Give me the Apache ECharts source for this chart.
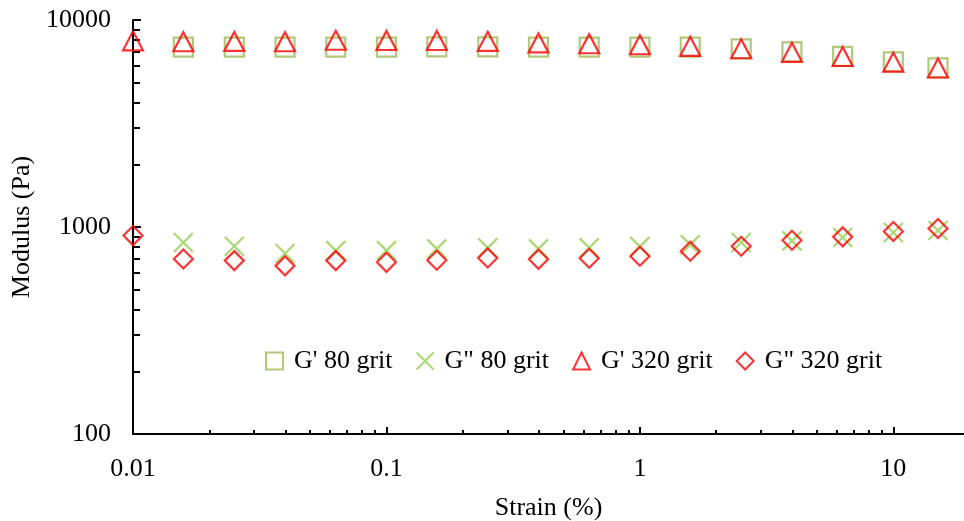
<!DOCTYPE html>
<html>
<head>
<meta charset="utf-8">
<script src="https://cdn.jsdelivr.net/npm/echarts@6/dist/echarts.min.js"></script>
<style>html,body{margin:0;padding:0;background:#fff}#c{width:964px;height:521px}</style>
</head>
<body>
<div id="c"></div>
<script>
// strain (%) values
var strain320 = [0.01, 0.0158, 0.0251, 0.0398, 0.0631, 0.1, 0.158, 0.251, 0.398, 0.631, 1, 1.58, 2.51, 3.98, 6.31, 10, 15];
var strain80  = [0.0158, 0.0251, 0.0398, 0.0631, 0.1, 0.158, 0.251, 0.398, 0.631, 1, 1.58, 2.51, 3.98, 6.31, 10, 15];
// moduli (Pa)
var gp80   = [7390, 7390, 7390, 7400, 7390, 7410, 7420, 7400, 7400, 7400, 7400, 7250, 7020, 6670, 6280, 5870];
var gpp80  = [841, 807, 744, 769, 769, 784, 793, 784, 793, 804, 822, 841, 857, 889, 940, 962];
var gp320  = [7930, 7850, 7880, 7850, 7980, 7960, 7960, 7890, 7750, 7680, 7590, 7460, 7260, 6980, 6660, 6260, 5860];
var gpp320 = [909, 701, 688, 649, 688, 675, 691, 709, 698, 706, 722, 763, 807, 863, 896, 951, 983];
// tick labels
var xMajor = [0.01, 0.1, 1, 10];
var xMajorText = ['0.01', '0.1', '1', '10'];
var xMinor = [0.02,0.03,0.04,0.05,0.06,0.07,0.08,0.09,0.2,0.3,0.4,0.5,0.6,0.7,0.8,0.9,2,3,4,5,6,7,8,9];
var yMajor = [100, 1000, 10000];
var yMajorText = ['100', '1000', '10000'];
var yMinor = [200,300,400,500,600,700,800,900,2000,3000,4000,5000,6000,7000,8000,9000];
var names = ["G' 80 grit", 'G" 80 grit', "G' 320 grit", 'G" 320 grit'];

function pairs(xs, ys){ return xs.map(function(x,i){ return [x, ys[i]]; }); }
function lookup(vals, texts){
  return function(v){
    for (var i=0;i<vals.length;i++){ if (Math.abs(Math.log10(v)-Math.log10(vals[i]))<1e-6) return texts[i]; }
    return '';
  };
}

var FONT = 'Liberation Serif';
var chart = echarts.init(document.getElementById('c'), null, {renderer:'canvas'});
var xBase = {type:'log', logBase:10, min:0.01, max:19};
var yBase = {type:'log', logBase:10, min:100, max:10000};
chart.setOption({
  animation:false,
  backgroundColor:'#fff',
  textStyle:{fontFamily:FONT},
  grid:{left:133, right:0, top:20, bottom:87, containLabel:false, outerBoundsMode:'none'},
  legend:{
    left:260, top:343, itemGap:23, itemWidth:17, itemHeight:17,
    textStyle:{fontFamily:FONT, fontSize:26, color:'#000', padding:[0,0,0,6]},
    data:names
  },
  xAxis:[
    Object.assign({}, xBase, {
      position:'bottom',
      name:'Strain (%)', nameLocation:'middle', nameGap:61,
      nameTextStyle:{fontFamily:FONT, fontSize:26, color:'#000'},
      axisLine:{show:true, lineStyle:{color:'#000', width:2}},
      axisTick:{show:true, inside:true, length:7, customValues:xMajor, lineStyle:{color:'#000', width:2}},
      axisLabel:{customValues:xMajor, formatter:lookup(xMajor, xMajorText), fontFamily:FONT, fontSize:26, color:'#000', margin:22},
      splitLine:{show:false}, minorTick:{show:false}
    }),
    Object.assign({}, xBase, {
      position:'bottom',
      axisLine:{show:false},
      axisTick:{show:true, inside:true, length:4, customValues:xMinor, lineStyle:{color:'#000', width:2}},
      axisLabel:{show:false},
      splitLine:{show:false}
    })
  ],
  yAxis:[
    Object.assign({}, yBase, {
      position:'left',
      name:'Modulus (Pa)', nameLocation:'middle', nameGap:96,
      nameTextStyle:{fontFamily:FONT, fontSize:26, color:'#000'},
      axisLine:{show:true, lineStyle:{color:'#000', width:2}},
      axisTick:{show:true, inside:true, length:8, customValues:yMajor, lineStyle:{color:'#000', width:2}},
      axisLabel:{customValues:yMajor, formatter:lookup(yMajor, yMajorText), fontFamily:FONT, fontSize:26, color:'#000', margin:22},
      splitLine:{show:false}
    }),
    Object.assign({}, yBase, {
      position:'left',
      axisLine:{show:false},
      axisTick:{show:true, inside:true, length:7, customValues:yMinor, lineStyle:{color:'#000', width:2}},
      axisLabel:{show:false},
      splitLine:{show:false}
    })
  ],
  series:[
    {name:names[0], type:'scatter', data:pairs(strain80, gp80), symbol:'rect', symbolSize:19,
     itemStyle:{color:'rgba(0,0,0,0)', borderColor:'#9BBB59', borderWidth:2.2}},
    {name:names[1], type:'scatter', data:pairs(strain80, gpp80), symbol:'path://M0,0L10,10M10,0L0,10', symbolSize:19,
     itemStyle:{color:'rgba(0,0,0,0)', borderColor:'#92D050', borderWidth:2.2}},
    {name:names[2], type:'scatter', data:pairs(strain320, gp320), symbol:'triangle', symbolSize:[20,19],
     itemStyle:{color:'rgba(0,0,0,0)', borderColor:'#FF0000', borderWidth:2.2}},
    {name:names[3], type:'scatter', data:pairs(strain320, gpp320), symbol:'diamond', symbolSize:19,
     itemStyle:{color:'rgba(0,0,0,0)', borderColor:'#FF0000', borderWidth:2.2}}
  ]
});
</script>
</body>
</html>
